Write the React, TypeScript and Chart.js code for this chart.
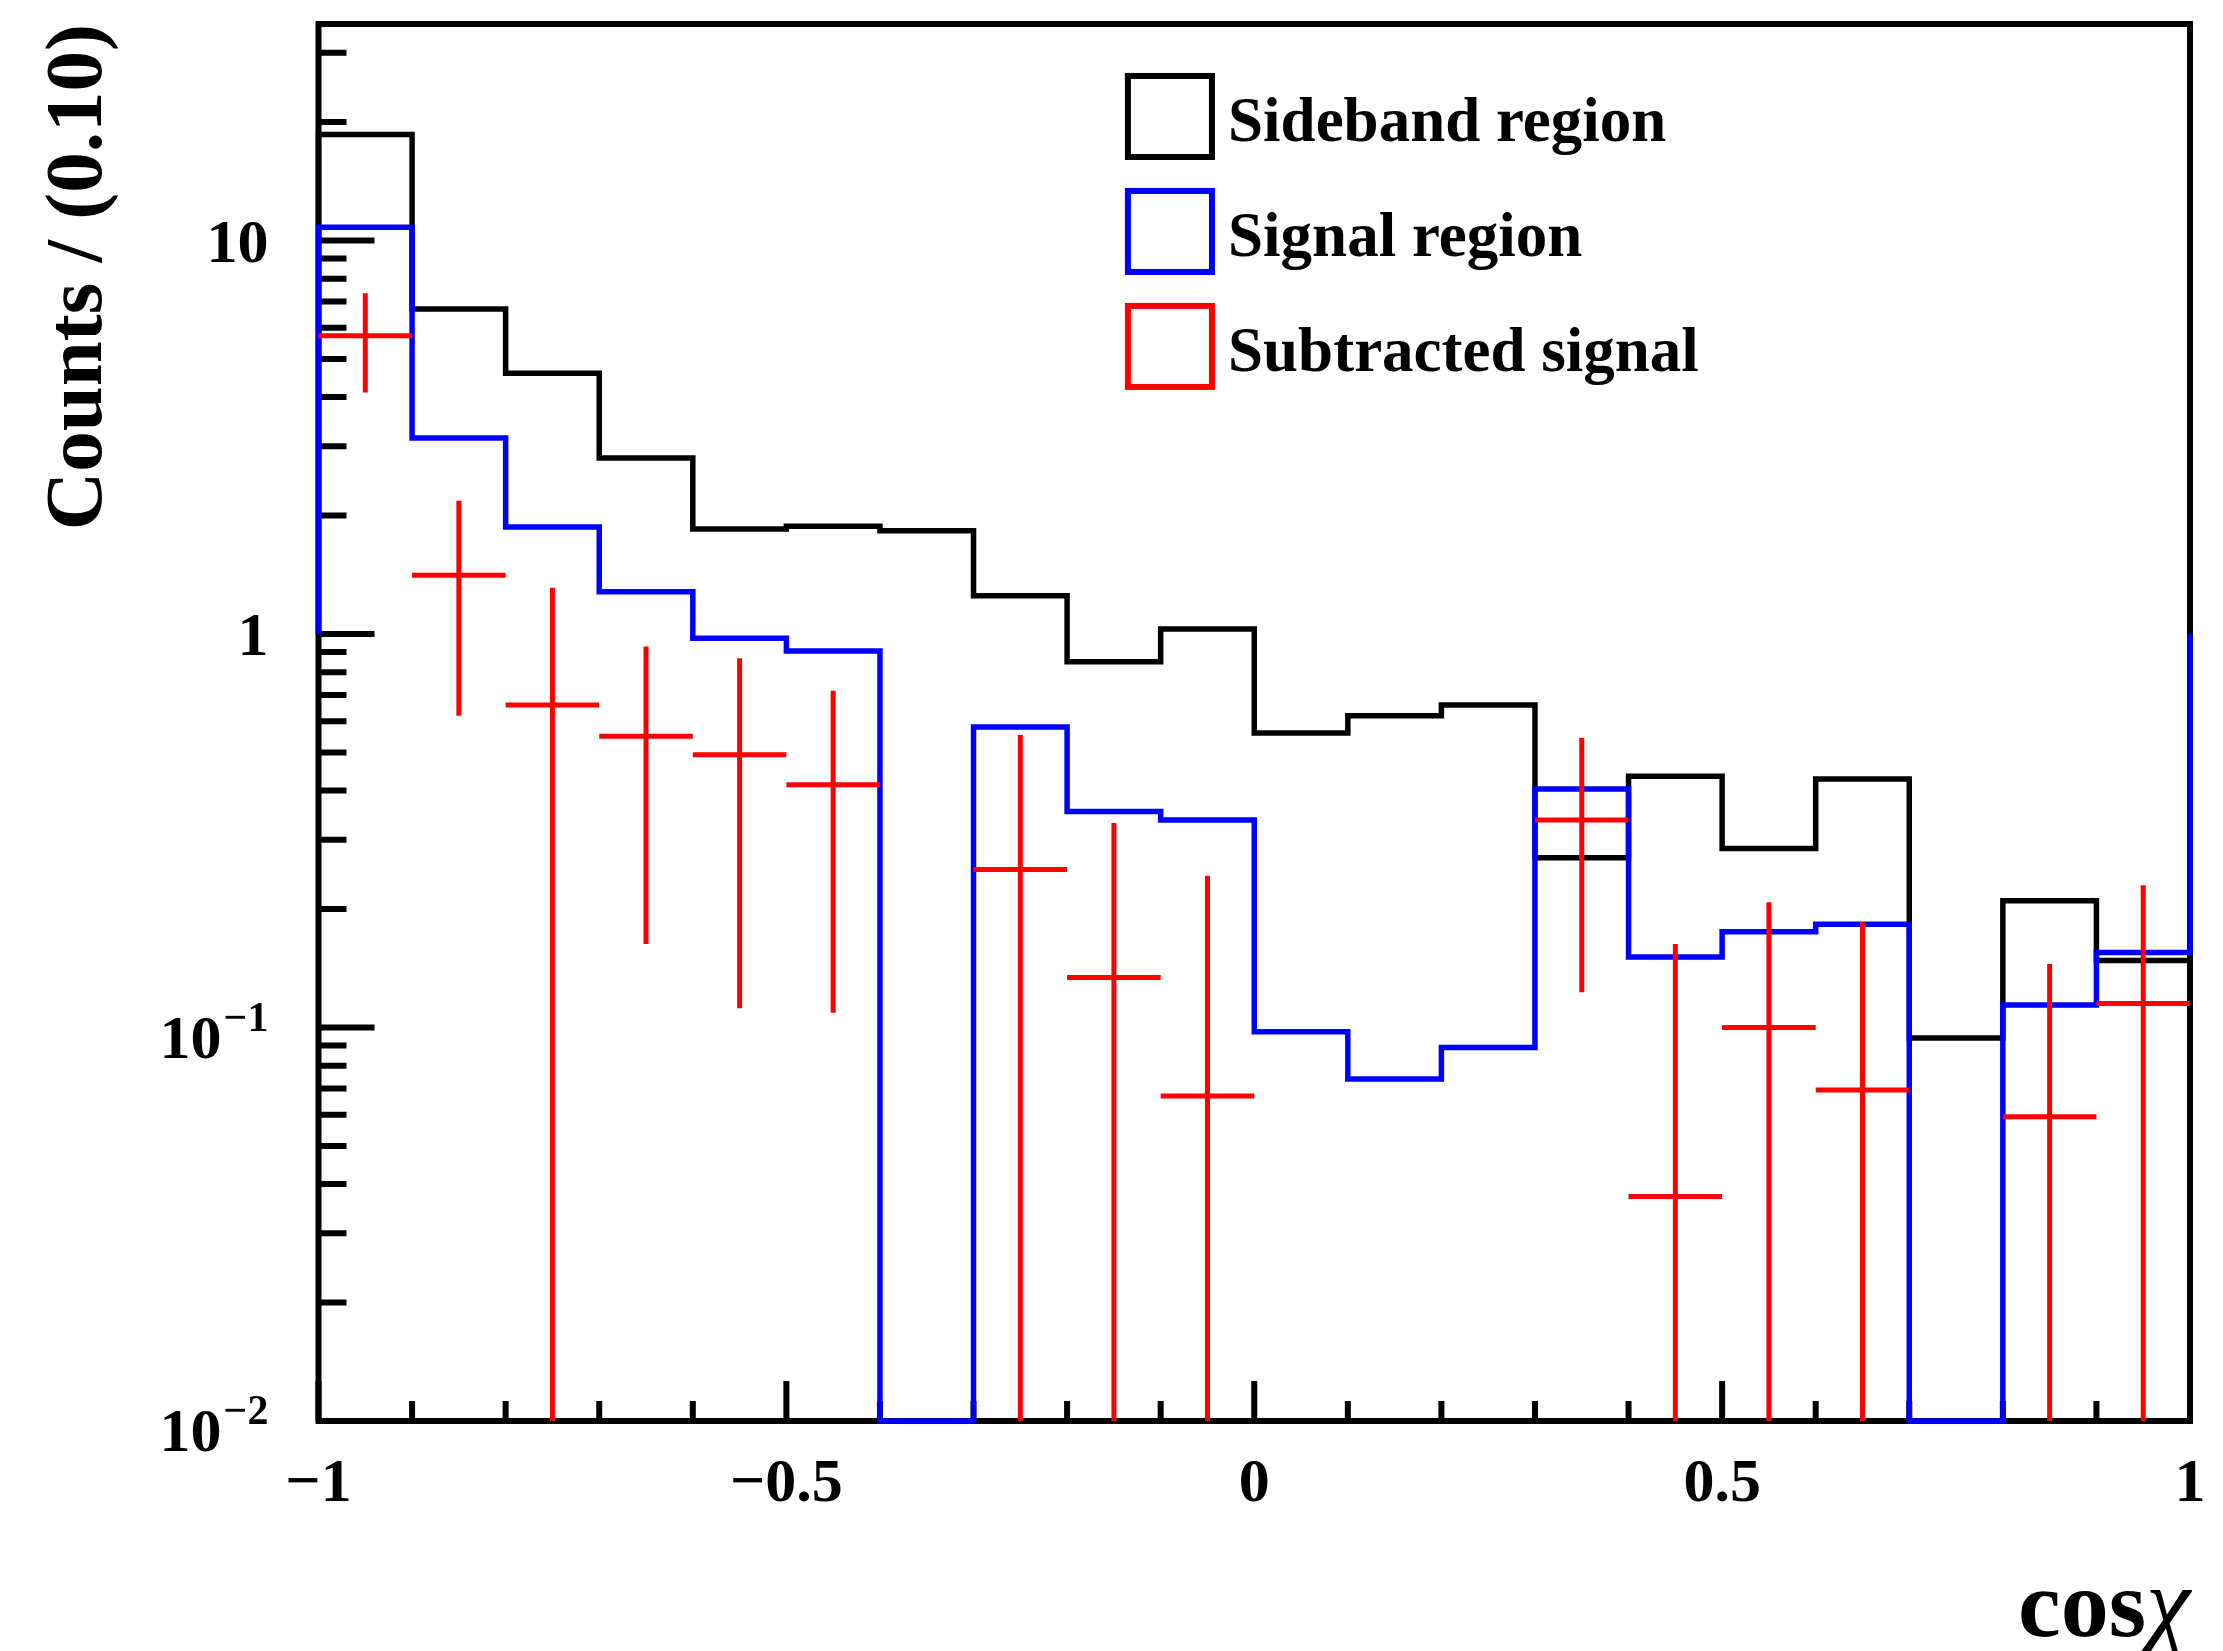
import React, { useEffect, useRef } from 'react';
import { Chart, registerables } from 'chart.js';

Chart.register(...registerables);

// ---------- data ----------
const BIN_EDGES = [-1, -0.9, -0.8, -0.7, -0.6, -0.5, -0.4, -0.3, -0.2, -0.1, 0, 0.1, 0.2, 0.3, 0.4, 0.5, 0.6, 0.7, 0.8, 0.9, 1];
const SIDEBAND = [18.6, 6.7, 4.6, 2.8, 1.85, 1.88, 1.83, 1.25, 0.85, 1.03, 0.56, 0.62, 0.66, 0.27, 0.435, 0.285, 0.428, 0.094, 0.21, 0.148];
const SIGNAL = [10.8, 3.15, 1.87, 1.28, 0.975, 0.905, 0, 0.58, 0.354, 0.337, 0.0975, 0.074, 0.089, 0.404, 0.151, 0.175, 0.183, 0, 0.114, 0.155];
const SUBTRACTED = [5.73, 1.41, 0.66, 0.55, 0.493, 0.414, null, 0.252, 0.134, 0.067, null, null, null, 0.337, 0.0372, 0.1, 0.0694, null, 0.0593, 0.115];
const SUBTRACTED_HIGH = [7.35, 2.18, 1.31, 0.93, 0.868, 0.717, null, 0.554, 0.331, 0.243, null, null, null, 0.545, 0.163, 0.208, 0.185, null, 0.145, 0.23];
const SUBTRACTED_LOW = [4.11, 0.62, 0, 0.163, 0.112, 0.109, null, 0, 0, 0, null, null, null, 0.123, 0, 0, 0, null, 0, 0];

const SERIES_LABELS = ['Sideband region', 'Signal region', 'Subtracted signal'];
const SERIES_COLORS = ['#000000', '#0000ff', '#ff0000'];

const Y_MIN = 0.01;
const Y_MAX = 35.5;
const HIST_BASE = 1;

const X_TICK_VALUES = [-1, -0.5, 0, 0.5, 1];
const X_TICK_LABELS = ['\u22121', '\u22120.5', '0', '0.5', '1'];
const X_MINOR_TICKS = [-0.9, -0.8, -0.7, -0.6, -0.4, -0.3, -0.2, -0.1, 0.1, 0.2, 0.3, 0.4, 0.6, 0.7, 0.8, 0.9];
const Y_TICK_VALUES = [0.01, 0.1, 1, 10];
const Y_TICK_BASES = ['10', '10', '1', '10'];
const Y_TICK_EXPONENTS = ['\u22122', '\u22121', '', ''];
const Y_MINOR_TICKS = [0.02, 0.03, 0.04, 0.05, 0.06, 0.07, 0.08, 0.09, 0.2, 0.3, 0.4, 0.5, 0.6, 0.7, 0.8, 0.9, 2, 3, 4, 5, 6, 7, 8, 9, 20, 30];

const X_TITLE_MAIN = 'cos';
const X_TITLE_SYMBOL = '\u03C7';
const Y_TITLE = 'Counts / (0.10)';

const FONT = "'Liberation Serif', 'Times New Roman', Times, serif";

// ---------- helpers ----------
function histPoints(values: number[]) {
  const pts: { x: number; y: number }[] = [{ x: BIN_EDGES[0], y: HIST_BASE }];
  values.forEach((v, i) => {
    const y = v > 0 ? v : Y_MIN;
    pts.push({ x: BIN_EDGES[i], y }, { x: BIN_EDGES[i + 1], y });
  });
  pts.push({ x: BIN_EDGES[BIN_EDGES.length - 1], y: HIST_BASE });
  return pts;
}

function errorPoints() {
  const pts: { x: number; y: number | null }[] = [];
  SUBTRACTED.forEach((v, i) => {
    if (v == null) return;
    const lo = BIN_EDGES[i];
    const hi = BIN_EDGES[i + 1];
    const c = (lo + hi) / 2;
    const eLo = SUBTRACTED_LOW[i] as number;
    const eHi = SUBTRACTED_HIGH[i] as number;
    pts.push({ x: lo, y: v }, { x: hi, y: v }, { x: c, y: null });
    pts.push({ x: c, y: eLo > 0 ? eLo : Y_MIN }, { x: c, y: eHi }, { x: c, y: null });
  });
  return pts;
}

const rootStylePlugin = {
  id: 'rootStyle',
  beforeDatasetsDraw(chart: any) {
    const { ctx, chartArea: a, scales } = chart;
    const xs = scales.x;
    const ys = scales.y;
    ctx.save();
    ctx.strokeStyle = '#000';
    ctx.lineWidth = 6;
    ctx.lineCap = 'butt';
    ctx.beginPath();
    X_TICK_VALUES.forEach((v) => {
      const px = xs.getPixelForValue(v);
      ctx.moveTo(px, a.bottom);
      ctx.lineTo(px, a.bottom - 40);
    });
    X_MINOR_TICKS.forEach((v) => {
      const px = xs.getPixelForValue(v);
      ctx.moveTo(px, a.bottom);
      ctx.lineTo(px, a.bottom - 20);
    });
    Y_TICK_VALUES.forEach((v) => {
      const py = ys.getPixelForValue(v);
      ctx.moveTo(a.left, py);
      ctx.lineTo(a.left + 56, py);
    });
    Y_MINOR_TICKS.forEach((v) => {
      const py = ys.getPixelForValue(v);
      ctx.moveTo(a.left, py);
      ctx.lineTo(a.left + 28, py);
    });
    ctx.stroke();
    ctx.lineJoin = 'miter';
    ctx.strokeRect(a.left, a.top, a.right - a.left, a.bottom - a.top);
    ctx.restore();
  },
  afterDatasetsDraw(chart: any) {
    const { ctx, chartArea: a, scales } = chart;
    const ys = scales.y;
    ctx.save();
    ctx.fillStyle = '#000';
    ctx.textBaseline = 'alphabetic';
    // y tick labels with superscripts
    const labelRight = a.left - 50;
    const baseSize = 62;
    const supSize = 42;
    Y_TICK_VALUES.forEach((v, i) => {
      const py = ys.getPixelForValue(v);
      const base = Y_TICK_BASES[i];
      const exp = Y_TICK_EXPONENTS[i];
      ctx.textAlign = 'right';
      if (exp) {
        ctx.font = `bold ${supSize}px ${FONT}`;
        const w = ctx.measureText(exp).width;
        ctx.fillText(exp, labelRight, py + 3);
        ctx.font = `bold ${baseSize}px ${FONT}`;
        ctx.fillText(base, labelRight - w - 2, py + 30);
      } else {
        ctx.font = `bold ${baseSize}px ${FONT}`;
        ctx.fillText(base, labelRight, py + 21);
      }
    });
    // x axis title: bold "cos" + thin italic chi, right-aligned at axis end
    const titleBaseline = a.bottom + 215;
    ctx.font = `italic 100px ${FONT}`;
    ctx.textAlign = 'right';
    const chiW = ctx.measureText(X_TITLE_SYMBOL).width;
    ctx.fillText(X_TITLE_SYMBOL, a.right, titleBaseline);
    ctx.font = `bold 96px ${FONT}`;
    ctx.fillText(X_TITLE_MAIN, a.right - chiW, titleBaseline);
    // legend
    const w = a.right - a.left;
    const h = a.bottom - a.top;
    const boxL = a.left + 0.4325 * w;
    const boxR = a.left + 0.4774 * w;
    const textX = a.left + 0.486 * w;
    const boxH = 0.058 * h;
    const pitch = 0.0823 * h;
    const top0 = a.top + 0.0372 * h;
    chart.data.datasets.forEach((ds: any, i: number) => {
      const top = top0 + i * pitch;
      ctx.lineWidth = 6;
      ctx.lineJoin = 'miter';
      ctx.strokeStyle = ds.borderColor;
      ctx.strokeRect(boxL, top, boxR - boxL, boxH);
      ctx.font = `bold 63px ${FONT}`;
      ctx.textAlign = 'left';
      ctx.fillStyle = '#000';
      ctx.fillText(ds.label, textX, top + boxH / 2 + 25);
    });
    ctx.restore();
  },
};

export default function App() {
  const ref = useRef<HTMLCanvasElement | null>(null);
  useEffect(() => {
    if (!ref.current) return;
    const chart = new Chart(ref.current, {
      type: 'line',
      data: {
        datasets: [
          {
            label: SERIES_LABELS[0],
            data: histPoints(SIDEBAND),
            borderColor: SERIES_COLORS[0],
            borderWidth: 5.5,
            pointRadius: 0,
            tension: 0,
            fill: false,
            borderJoinStyle: 'miter',
            borderCapStyle: 'butt',
            clip: 8,
            order: 3,
          },
          {
            label: SERIES_LABELS[1],
            data: histPoints(SIGNAL),
            borderColor: SERIES_COLORS[1],
            borderWidth: 5.5,
            pointRadius: 0,
            tension: 0,
            fill: false,
            borderJoinStyle: 'miter',
            borderCapStyle: 'butt',
            clip: 8,
            order: 2,
          },
          {
            label: SERIES_LABELS[2],
            data: errorPoints(),
            borderColor: SERIES_COLORS[2],
            borderWidth: 5,
            pointRadius: 0,
            tension: 0,
            fill: false,
            spanGaps: false,
            borderCapStyle: 'butt',
            clip: 8,
            order: 1,
          },
        ] as any,
      },
      options: {
        responsive: false,
        maintainAspectRatio: false,
        devicePixelRatio: 1,
        animation: false,
        events: [],
        layout: { padding: { left: 0, right: 33, top: 24, bottom: 0 } },
        plugins: {
          legend: { display: false },
          tooltip: { enabled: false },
        },
        scales: {
          x: {
            type: 'linear',
            position: 'bottom',
            min: -1,
            max: 1,
            grid: { display: false, drawTicks: false },
            border: { display: false },
            afterBuildTicks: (scale: any) => {
              scale.ticks = X_TICK_VALUES.map((v) => ({ value: v }));
            },
            afterFit: (scale: any) => {
              scale.height = 230;
              scale.paddingLeft = 0;
              scale.paddingRight = 0;
            },
            ticks: {
              autoSkip: false,
              maxRotation: 0,
              minRotation: 0,
              padding: 27,
              color: '#000',
              font: { family: FONT, weight: 'bold', size: 62, lineHeight: 1.2 },
              callback: (value: any) => {
                const idx = X_TICK_VALUES.indexOf(Number(value));
                return idx >= 0 ? X_TICK_LABELS[idx] : '';
              },
            },
            title: { display: false },
          },
          y: {
            type: 'logarithmic',
            position: 'left',
            min: Y_MIN,
            max: Y_MAX,
            grid: { display: false, drawTicks: false },
            border: { display: false },
            afterBuildTicks: (scale: any) => {
              scale.ticks = Y_TICK_VALUES.map((v) => ({ value: v }));
            },
            afterFit: (scale: any) => {
              scale.width = 318.5;
              scale.paddingTop = 0;
              scale.paddingBottom = 0;
            },
            ticks: { display: false },
            title: {
              display: true,
              text: Y_TITLE,
              align: 'end',
              color: '#000',
              font: { family: FONT, weight: 'bold', size: 81, lineHeight: 1 },
              padding: { top: 40, bottom: 0 },
            },
          },
        },
      } as any,
      plugins: [rootStylePlugin],
    });
    return () => chart.destroy();
  }, []);

  return (
    <div style={{ position: 'absolute', left: 0, top: 0, width: 2223, height: 1651, background: '#fff' }}>
      <canvas ref={ref} width={2223} height={1651} style={{ display: 'block' }} />
    </div>
  );
}
